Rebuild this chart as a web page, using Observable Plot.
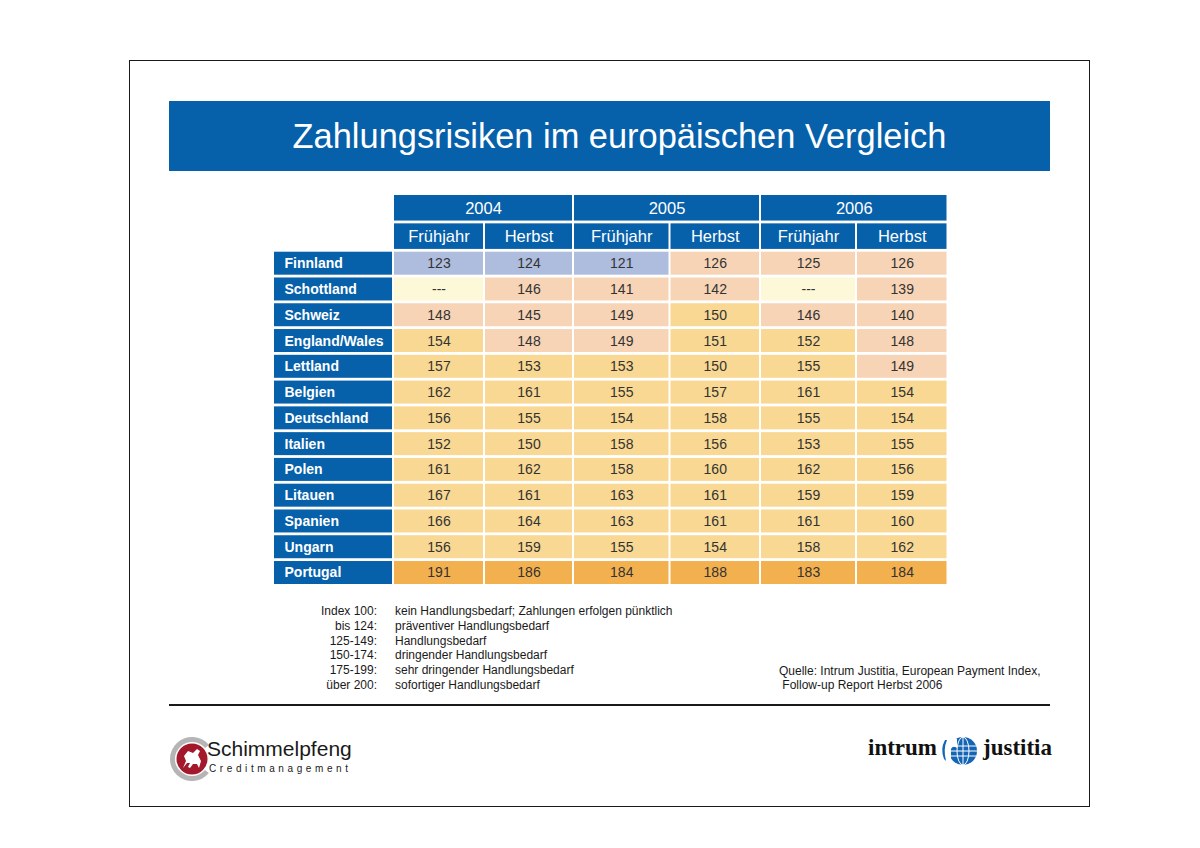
<!DOCTYPE html>
<html><head><meta charset="utf-8">
<script src="https://cdn.jsdelivr.net/npm/d3@7"></script>
<script src="https://cdn.jsdelivr.net/npm/@observablehq/plot@0.6"></script>
<style>
body{margin:0;background:#fff;font-family:"Liberation Sans",Arial,sans-serif;}
#page{position:relative;width:1200px;height:848px;overflow:hidden;background:#fff;}
#frame{position:absolute;left:129px;top:60px;width:959px;height:745px;border:1.5px solid #1a1a1a;}
#titlebar{position:absolute;left:169px;top:101px;width:861px;padding-left:20px;height:70px;background:#0660aa;color:#fff;font-size:34.4px;display:flex;align-items:center;justify-content:center;}
#chart{position:absolute;left:0;top:180px;}
.leg{position:absolute;font-size:12px;line-height:14.8px;color:#1a1a1a;white-space:nowrap;}
#legL{left:250px;width:127px;top:604px;text-align:right;}
#legR{left:395px;top:604px;}
#src{left:779px;top:663.5px;}
#rule{position:absolute;left:169px;top:704px;width:881px;height:1.6px;background:#1a1a1a;}
#schim{position:absolute;left:165px;top:734px;}
#schimT{position:absolute;left:207px;top:737px;font-size:21px;color:#1a1a1a;}
#schimS{position:absolute;left:209px;top:763px;font-size:10px;letter-spacing:3.6px;color:#1a1a1a;}
#intrum{position:absolute;left:868px;top:735px;font-family:"Liberation Serif",serif;font-weight:bold;font-size:23px;color:#111;}
#justitia{position:absolute;left:983px;top:735px;font-family:"Liberation Serif",serif;font-weight:bold;font-size:23px;color:#111;}
#globe{position:absolute;left:940px;top:735px;}
</style></head>
<body>
<div id="page">
<div id="frame"></div>
<div id="titlebar">Zahlungsrisiken im europäischen Vergleich</div>
<div id="chart"></div>
<div class="leg" id="legL"></div>
<div class="leg" id="legR"></div>
<div class="leg" id="src">Quelle: Intrum Justitia, European Payment Index,<br>&nbsp;Follow-up Report Herbst 2006</div>
<div id="rule"></div>
<svg id="schim" width="50" height="50" viewBox="0 0 50 50">
  <path d="M43.9 10.9 A22 22 0 1 0 43.9 39.1 L40.0 35.9 A17 17 0 1 1 40.0 14.1 Z" fill="#b5b5b5"/>
  <circle cx="27" cy="25" r="15.5" fill="#a3182a"/>
  <path d="M18 34 L21 27 L19 22 L23 17 L28 19 L32 15 L35 17 L33 21 L36 27 L34 34 L32 30 L28 30 L25 34 L23 33 L25 29 L22 29 Z" fill="#fff"/>
</svg>
<div id="schimT">Schimmelpfeng</div>
<div id="schimS">Creditmanagement</div>
<div id="intrum">intrum</div>
<svg id="globe" width="40" height="32" viewBox="0 0 40 32">
  <circle cx="23" cy="16" r="14" fill="#1565b5"/>
  <g stroke="#fff" stroke-width="1" fill="none">
    <ellipse cx="23" cy="16" rx="6" ry="14"/>
    <line x1="23" y1="2" x2="23" y2="30"/>
    <line x1="9" y1="11" x2="37" y2="11"/>
    <line x1="9" y1="16" x2="37" y2="16"/>
    <line x1="10" y1="21" x2="36" y2="21"/>
  </g>
  <path d="M8 4 Q13 1 17 4 L17 13 Q13 10 11 14 L11 27 Q7 22 8 4 Z" fill="#fff"/>
  <path d="M7 5 Q3 14 6 26 L4 24 Q0 14 5 5 Z" fill="#1565b5"/>
</svg>
<div id="justitia">justitia</div>
</div>
<script>
// ---- data ----
const countries = ["Finnland","Schottland","Schweiz","England/Wales","Lettland","Belgien","Deutschland","Italien","Polen","Litauen","Spanien","Ungarn","Portugal"];
const years = ["2004","2005","2006"];
const seasons = ["Frühjahr","Herbst"];
const fj2004 = [123, null, 148, 154, 157, 162, 156, 152, 161, 167, 166, 156, 191];
const hb2004 = [124, 146, 145, 148, 153, 161, 155, 150, 162, 161, 164, 159, 186];
const fj2005 = [121, 141, 149, 149, 153, 155, 154, 158, 158, 163, 163, 155, 184];
const hb2005 = [126, 142, 150, 151, 150, 157, 158, 156, 160, 161, 161, 154, 188];
const fj2006 = [125, null, 146, 152, 155, 161, 155, 153, 162, 159, 161, 158, 183];
const hb2006 = [126, 139, 140, 148, 149, 154, 154, 155, 156, 159, 160, 162, 184];
const thresholds = [125, 150, 175, 200];
const legendRanges = ["Index 100:","bis 124:","125-149:","150-174:","175-199:","über 200:"];
const legendTexts = ["kein Handlungsbedarf; Zahlungen erfolgen pünktlich","präventiver Handlungsbedarf","Handlungsbedarf","dringender Handlungsbedarf","sehr dringender Handlungsbedarf","sofortiger Handlungsbedarf"];

// ---- layout / style ----
const BLUE = "#0660aa";
const colorRange = ["#aebcdd","#f7d4b6","#f8d892","#f3b04f","#ee8a2e"];
const MISSING = "#fdf8d8";
const colWidths = [91, 89, 96.5, 90.5, 96, 91.5];   // relative column widths
const LABELW = 120;                                  // relative width of the row-label column
const HEADH = 1.1;
const colX = [0];
colWidths.forEach((w, i) => colX.push(colX[i] + w));

document.getElementById("legL").innerHTML = legendRanges.join("<br>");
document.getElementById("legR").innerHTML = legendTexts.join("<br>");

const columns = [fj2004, hb2004, fj2005, hb2005, fj2006, hb2006];
const cells = [];
countries.forEach((c, i) => columns.forEach((col, j) => cells.push({country: c, row: i, col: j, value: col[i]})));
const present = cells.filter(d => d.value != null);
const missing = cells.filter(d => d.value == null);
const yearHead = years.map((y, i) => ({label: y, i}));
const seasonHead = years.flatMap((y, i) => seasons.map((s, k) => ({label: s, col: 2 * i + k})));
const rowHead = countries.map((c, i) => ({label: c, row: i}));

const cx1 = d => colX[d.col], cx2 = d => colX[d.col + 1], cxm = d => (colX[d.col] + colX[d.col + 1]) / 2;
const rowY1 = d => 2 * HEADH + d.row;
const rowY2 = d => 2 * HEADH + d.row + 1;
const rowYM = d => 2 * HEADH + d.row + 0.5;
const ins = {insetLeft: 1, insetRight: 1, insetTop: 1.4, insetBottom: 1.4};

const H = 420;
const chart = Plot.plot({
  width: 1200, height: H,
  marginLeft: 273, marginRight: 252.5, marginTop: 13.6, marginBottom: H - (585.4 - 180),
  x: {domain: [-LABELW, colX[colX.length - 1]], axis: null},
  y: {domain: [0, 2 * HEADH + countries.length], axis: null, reverse: true},
  color: {type: "threshold", domain: thresholds, range: colorRange},
  style: {fontFamily: "'Liberation Sans', Arial, sans-serif", background: "transparent", overflow: "visible"},
  marks: [
    Plot.rect(yearHead, {x1: d => colX[2 * d.i], x2: d => colX[2 * d.i + 2], y1: () => 0, y2: () => HEADH, fill: BLUE, ...ins}),
    Plot.text(yearHead, {x: d => (colX[2 * d.i] + colX[2 * d.i + 2]) / 2, y: () => HEADH / 2, text: "label", fill: "white", fontSize: 16.5}),
    Plot.rect(seasonHead, {x1: cx1, x2: cx2, y1: () => HEADH, y2: () => 2 * HEADH, fill: BLUE, ...ins}),
    Plot.text(seasonHead, {x: cxm, y: () => 1.5 * HEADH, text: "label", fill: "white", fontSize: 16.5}),
    Plot.rect(rowHead, {x1: () => -LABELW, x2: () => 0, y1: rowY1, y2: rowY2, fill: BLUE, ...ins}),
    Plot.text(rowHead, {x: () => -LABELW, y: rowYM, dx: 11, text: "label", textAnchor: "start", fill: "white", fontSize: 14, fontWeight: "bold"}),
    Plot.rect(present, {x1: cx1, x2: cx2, y1: rowY1, y2: rowY2, fill: "value", ...ins}),
    Plot.rect(missing, {x1: cx1, x2: cx2, y1: rowY1, y2: rowY2, fill: MISSING, ...ins}),
    Plot.text(cells, {x: cxm, y: rowYM, text: d => d.value == null ? "---" : String(d.value), fill: "#333", fontSize: 14})
  ]
});
document.getElementById("chart").appendChild(chart);
</script>
</body></html>
